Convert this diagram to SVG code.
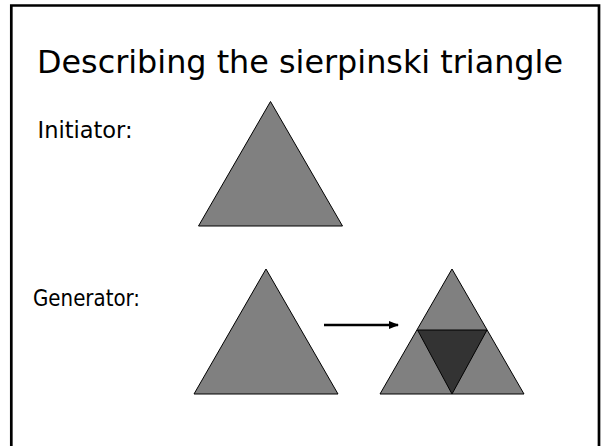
<svg xmlns="http://www.w3.org/2000/svg" width="602" height="446" viewBox="0 0 602 446">
<defs>
<style>
.t{font-family:Tahoma,"DejaVu Sans Condensed","DejaVu Sans","Liberation Sans",sans-serif;fill:#000}
.tri{fill:#808080;stroke:#000;stroke-width:1;stroke-linejoin:miter}
.dark{fill:#333333;stroke:#000;stroke-width:1}
</style>
<marker id="ah" viewBox="0 0 10 10" refX="9" refY="5" markerWidth="4" markerHeight="4" orient="auto" markerUnits="strokeWidth">
<path d="M0,1 L10,5 L0,9 z" fill="#000"/>
</marker>
</defs>
<rect width="602" height="446" fill="#fff"/>
<path d="M11.3,450 V5.5 H599 V450" fill="none" stroke="#000" stroke-width="2.7"/>
<text class="t" x="37" y="72.5" font-size="31.5" textLength="526" lengthAdjust="spacingAndGlyphs">Describing the sierpinski triangle</text>
<g id="initiator-label"><text class="t" x="37.5" y="137.5" font-size="23.5" textLength="95" lengthAdjust="spacingAndGlyphs">Initiator:</text></g>
<g id="generator-label"><text class="t" x="33" y="306" font-size="23.5" textLength="107" lengthAdjust="spacingAndGlyphs">Generator:</text></g>
<g id="initiator"><polygon class="tri" points="270.5,101.5 342.5,226 198.5,226"/></g>
<g id="generator-source"><polygon class="tri" points="266,269 338,394 194,394"/></g>
<g id="generator-result">
<polygon class="tri" points="452,269 524,394 380,394"/>
<polygon class="dark" points="417.5,330 487,330 452,394"/>
</g>
<g id="connectors">
<line x1="324" y1="325" x2="398" y2="325" stroke="#000" stroke-width="2.5" marker-end="url(#ah)"/>
</g>
</svg>
